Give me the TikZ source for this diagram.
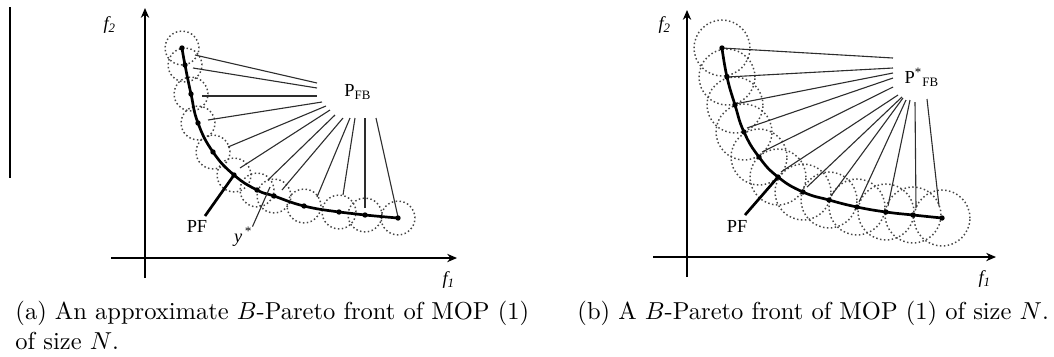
\documentclass[tikz,border=0pt]{standalone}
\usepackage{fontspec}
\newfontfamily\figfont{Liberation Serif}
\usetikzlibrary{arrows.meta,calc}
\definecolor{BallClr}{RGB}{70,70,70}
\definecolor{FanClr}{RGB}{45,45,45}

\begin{document}
\begin{tikzpicture}[x=0.408pt,y=-0.408pt,
  axis/.style={line width=0.6pt,-{Stealth[length=4pt,width=3.4pt]}},
  front/.style={line width=1.1pt},
  fan/.style={line width=0.45pt,color=FanClr},
  ball/.style={densely dotted,line width=0.6pt,color=BallClr},
  lbl/.style={font=\figfont\fontsize{7.5}{8}\selectfont,inner sep=0pt},
  capbox/.style={align=left,inner sep=0pt,anchor=north west}]
\useasboundingbox (0,0) rectangle (1054,356);

\coordinate (T0) at (10,7); \coordinate (T1) at (10,178);
\draw[line width=0.6pt] (T0) -- (T1);

% panel (a)
\coordinate (Ya0) at (145,278); \coordinate (Ya1) at (145,8);
\coordinate (Xa0) at (111,258); \coordinate (Xa1) at (457,258);
\draw[axis] (Ya0) -- (Ya1);
\draw[axis] (Xa0) -- (Xa1);

\foreach \x/\y [count=\i] in {182/48,185/65,191/94,198/123,213/152,234/175,257/190,274/196,304/206,339/212,365/215,398/218}
  \coordinate (A\i) at (\x,\y);
\foreach \x/\y [count=\i] in {195/55,193/68,202/96,208/120,228/147,240/168,268/180,282/190,317/197,343/195,365/208,398/217}
  \coordinate (Sa\i) at (\x,\y);
\foreach \x/\y [count=\i] in {317/83,317/88,317/96,322/102,326/106,330/110,335/115,343/118,350/118,355/118,365/118,376/118}
  \coordinate (Ha\i) at (\x,\y);

\foreach \i in {1,...,12} \draw[ball] (A\i) circle[radius=6.9pt];
\foreach \i in {1,...,12} \draw[fan] (Sa\i) -- (Ha\i);
\draw[front] plot[smooth,tension=0.8] coordinates {(A1) (A2) (A3) (A4) (A5) (A6) (A7) (A8) (A9) (A10) (A11) (A12)};
\foreach \i in {1,...,12} \fill (A\i) circle[radius=1.1pt];

\node[lbl] (PFBa) at (358,92) {P\textsubscript{FB}};
\node[lbl] (PFa) at (197,226) {PF};
\coordinate (PFa1) at (205,216);
\draw[front] (PFa1) -- (A6);
\node[lbl] (Ystar) at (243,237) {\itshape y\textsuperscript{\,*}};
\coordinate (Ystar1) at (270,187);
\draw[fan] (Ystar.north east) -- (Ystar1);
\node[lbl] (F2a) at (110,25) {\itshape f\textsubscript{2}};
\node[lbl] (F1a) at (449,280) {\itshape f\textsubscript{1}};

% panel (b)
\coordinate (Yb0) at (687,277); \coordinate (Yb1) at (687,10);
\coordinate (Xb0) at (653,257); \coordinate (Xb1) at (996,257);
\draw[axis] (Yb0) -- (Yb1);
\draw[axis] (Xb0) -- (Xb1);

\foreach \x/\y [count=\i] in {722/48,727/77,735/105,744/132,759/157,778/177,803/192,829/200,857/207,886/212,913/215,942/218}
  \coordinate (B\i) at (\x,\y);
\foreach \x/\y [count=\i] in {722/48,727/77,735/104,747/128,762/152,781/172,807/187,831/196,859/202,888/206,916/208,939/206}
  \coordinate (Sb\i) at (\x,\y);
\foreach \x/\y [count=\i] in {893/58,893/68,893/73,893/78,893/87,898/95,902/97,903/98,906/100,910/100,915/102,927/99}
  \coordinate (Hb\i) at (\x,\y);

\foreach \i in {1,...,12} \draw[ball] (B\i) circle[radius=11.4pt];
\foreach \i in {1,...,12} \draw[fan] (Sb\i) -- (Hb\i);
\draw[front] plot[smooth,tension=0.8] coordinates {(B1) (B2) (B3) (B4) (B5) (B6) (B7) (B8) (B9) (B10) (B11) (B12)};
\foreach \i in {1,...,12} \fill (B\i) circle[radius=1.1pt];

\node[lbl] (PFBb) at (922,77) {P\textsuperscript{*}\textsubscript{FB}};
\node[lbl] (PFb) at (737,226) {PF};
\coordinate (PFb1) at (745,215);
\draw[front] (PFb1) -- (B6);
\node[lbl] (F2b) at (665,25) {\itshape f\textsubscript{2}};
\node[lbl] (F1b) at (985,279) {\itshape f\textsubscript{1}};

% captions
\node[capbox] (CapA) at (15,301) {(a) An approximate $B$-Pareto front of MOP (1)\\of size $N$.};
\node[capbox] (CapB) at (577,301) {(b) A $B$-Pareto front of MOP (1) of size $N$.};
\end{tikzpicture}
\end{document}
